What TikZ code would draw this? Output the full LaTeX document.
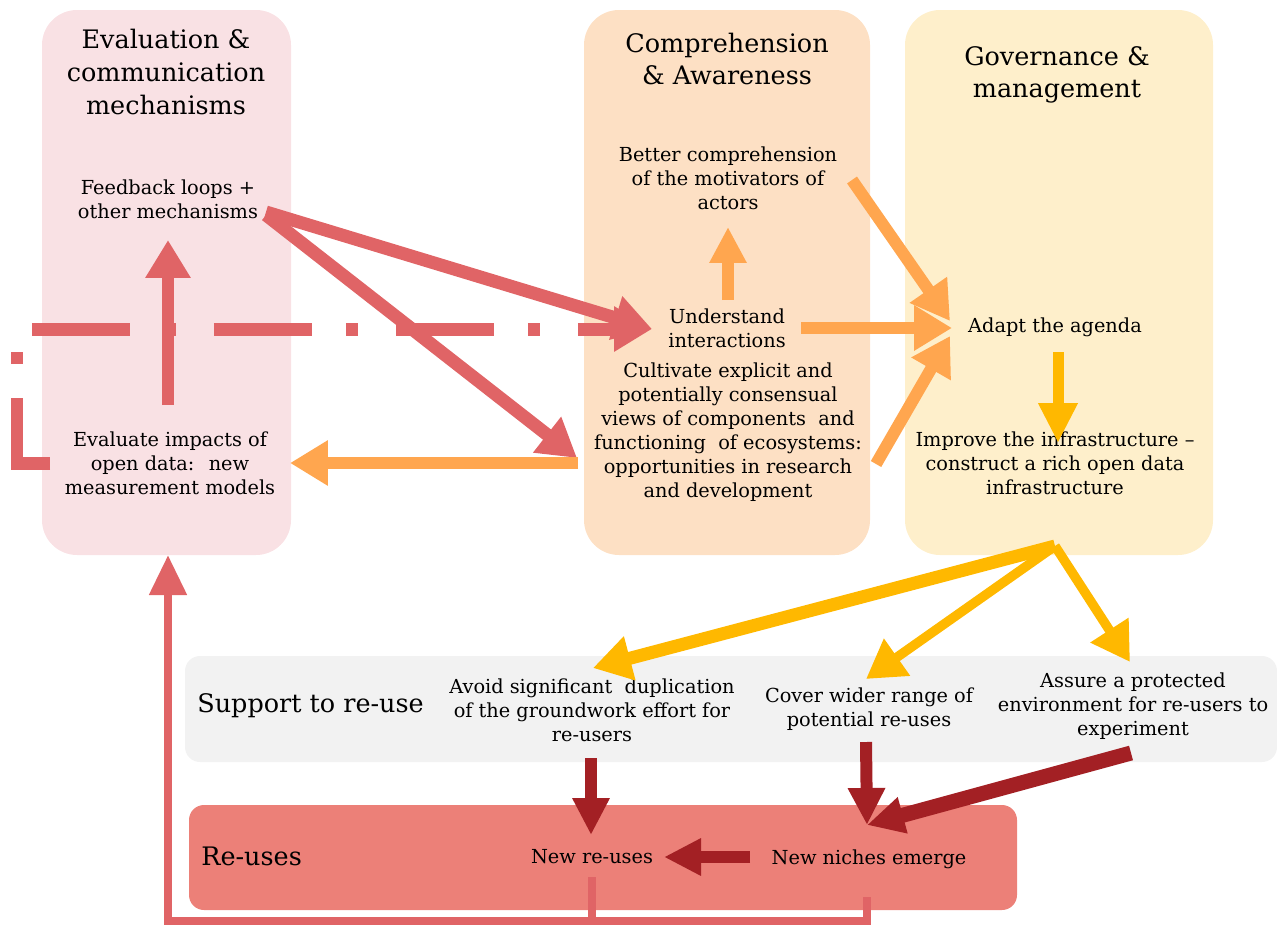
\documentclass[tikz,border=0pt]{standalone}
\usepackage{fontspec}
\setmainfont{DejaVu Serif}
\usetikzlibrary{arrows.meta}

\definecolor{pinkbox}{HTML}{F9E1E4}
\definecolor{peachbox}{HTML}{FDE0C4}
\definecolor{yellowbox}{HTML}{FEEFCB}
\definecolor{greybox}{HTML}{F2F2F2}
\definecolor{reubox}{HTML}{EC8078}
\definecolor{redarr}{HTML}{E06466}
\definecolor{orangearr}{HTML}{FFA64F}
\definecolor{amberarr}{HTML}{FFB800}
\definecolor{darkarr}{HTML}{A32024}

\begin{document}
\begin{tikzpicture}[x=0.02cm, y=-0.02cm,
  title/.style = {align=center, inner sep=0pt, font=\fontsize{14.5}{18.6}\selectfont},
  txt/.style = {align=center, inner sep=0pt, font=\fontsize{11}{13.6}\selectfont},
  tip/.style = {-{Triangle[length=0.76cm, width=0.86cm]}},
  redline/.style = {tip, draw=redarr, line width=0.26cm},
  orangeline/.style = {tip, draw=orangearr, line width=0.24cm},
  amberline/.style = {tip, draw=amberarr, line width=0.19cm},
  darkline/.style = {-{Triangle[length=0.74cm, width=0.7cm]}, draw=darkarr, line width=0.24cm}]
\useasboundingbox (0,0) rectangle (1277,930);

% the coloured panels
\fill[pinkbox, rounded corners=0.7cm] (42,10) rectangle (291,555);
\fill[peachbox, rounded corners=0.7cm] (584,10) rectangle (870,555);
\fill[yellowbox, rounded corners=0.7cm] (905,10) rectangle (1213,555);
\fill[greybox, rounded corners=0.3cm] (185,656) rectangle (1277,762);
\fill[reubox, rounded corners=0.3cm] (189,805) rectangle (1017,910);

% titles
\node[title] (evtitle) at (166,72) {Evaluation \&\\communication\\mechanisms};
\node[title] (cotitle) at (727,59) {Comprehension\\\& Awareness};
\node[title] (gotitle) at (1057,75) {Governance \&\\management};
\node[title, anchor=west] (suptitle) at (197,706) {Support to re-use};
\node[title, anchor=west] (reutitle) at (201,856) {Re-uses};

% statements
\node[txt] (fb) at (168,199) {Feedback loops +\\other mechanisms};
\node[txt] (ev) at (170,463) {Evaluate impacts of\\open data:~ new\\measurement models};
\node[txt] (bc) at (728,178) {Better comprehension\\of the motivators of\\actors};
\node[txt] (ui) at (727,328) {Understand\\interactions};
\node[txt] (cu) at (728,432) {Cultivate explicit and\\potentially consensual\\views of components~ and\\functioning~ of ecosystems:\\opportunities in research\\and development};
\node[txt] (ad) at (1055,327) {Adapt the agenda};
\node[txt] (im) at (1055,463) {Improve the infrastructure --\\construct a rich open data\\infrastructure};
\node[txt] (av) at (592,710) {Avoid significant~ duplication\\of the groundwork effort for\\re-users};
\node[txt] (cv) at (869,709) {Cover wider range of\\potential re-uses};
\node[txt] (as) at (1133,706) {Assure a protected\\environment for re-users to\\experiment};
\node[txt] (nr) at (592,857) {New re-uses};
\node[txt] (nn) at (869,859) {New niches emerge};

% end points of the arrows
\coordinate (uiIn) at (652,329);
\coordinate (cuIn) at (577,458);
\coordinate (adIn) at (952,328);
\coordinate (imOut) at (1055,546);
\coordinate (nnIn) at (867,825);

% red: evaluation loop
\draw[redline, line cap=butt, dash pattern=on 1.96cm off 0.68cm on 0.24cm off 0.76cm]
  (50,463) -- (17,463) -- (17,329) -- (uiIn);
\draw[redline] (266,212) -- (uiIn);
\draw[redline] (266,215) -- (cuIn);
\draw[redline, line width=0.23cm] (168,405) -- (168,240);
\draw[redarr, line width=0.16cm] (592,877) -- (592,921);
\draw[-{Triangle[length=0.8cm, width=0.72cm]}, draw=redarr, line width=0.16cm]
  (867,897) -- (867,921) -- (168,921) -- (168,555);

% orange: comprehension
\draw[orangeline] (578,463) -- (290,463);
\draw[orangeline, -{Triangle[length=0.72cm, width=0.7cm]}] (728,300) -- (728,227);
\draw[orangeline] (801,328) -- (adIn);
\draw[orangeline] (852,180) -- (950,321);
\draw[orangeline] (876,464) -- (950,336);

% amber: governance
\draw[amberline, line width=0.22cm, -{Triangle[length=0.8cm, width=0.74cm]}] (1058,352) -- (1058,443);
\draw[amberline, line width=0.26cm] (imOut) -- (593,668);
\draw[amberline] (imOut) -- (866,679);
\draw[amberline] (imOut) -- (1130,662);

% dark red: re-uses
\draw[darkline] (591,758) -- (591,835);
\draw[darkline] (866,742) -- (nnIn);
\draw[darkline, line width=0.3cm] (1131,753) -- (nnIn);
\draw[darkline] (750,857) -- (664,857);
\end{tikzpicture}
\end{document}
